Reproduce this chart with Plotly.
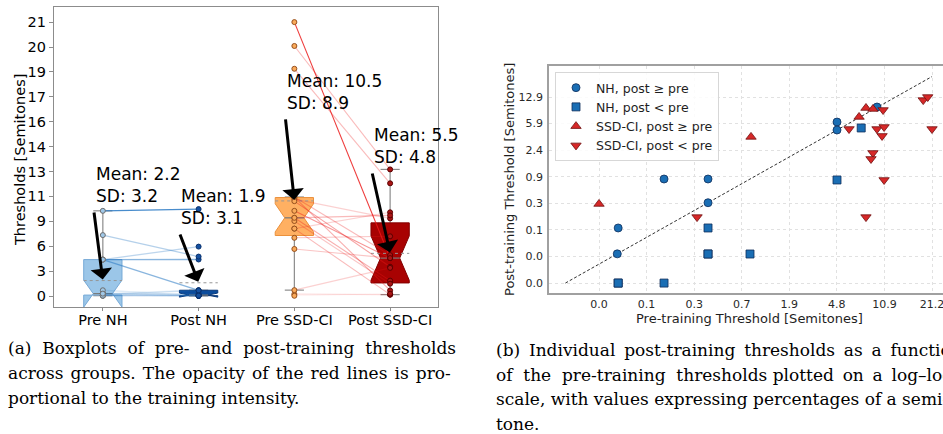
import numpy as np
import plotly.graph_objects as go

# ---------------------------------------------------------------------------
# Per-participant discrimination thresholds in semitones (pre / post training)
# ---------------------------------------------------------------------------
nh_pre = [0.140, 0.354, 0.354, 0.053, 0.052, 4.80, 4.80, 9.66,
          0.354, 0.354, 0.053, 0.140, 0.851, 4.80, 7.41, 0.053, 0.354]
nh_post = [0.853, 0.853, 0.354, 0.1375, 0.052, 6.23, 4.81, 9.81,
           0.1375, 0.0517, 0.0173, 0.0173, 0.0517, 0.823, 5.14, 0.0173, 0.0517]
nh_intensity = [0.15, 0.12, 0.12, 0.10, 0.10, 0.30, 0.55, 0.85,
                0.12, 0.12, 0.10, 0.10, 0.15, 0.55, 0.35, 0.10, 0.12]

ci_pre = [0.281, 10.82, 8.04, 5.98, 10.65, 9.66, 10.82, 10.48, 9.04, 8.75,
          18.98, 20.1, 21.2, 0.0353, 0.869, 7.14, 8.04, 9.04]
ci_post = [0.207, 0.823, 0.207, 4.97, 8.99, 4.97, 5.31, 3.95, 2.19, 1.77,
           11.9, 12.93, 4.97, 0.338, 3.82, 7.29, 9.53, 9.26]
ci_intensity = [0.15, 0.35, 0.30, 0.25, 0.20, 0.45, 0.30, 0.40, 0.35, 0.25,
                0.30, 0.30, 0.85, 0.05, 0.20, 0.25, 0.20, 0.30]

groups = ["Pre NH", "Post NH", "Pre SSD-CI", "Post SSD-CI"]
group_means = [2.2, 1.9, 10.5, 5.5]
group_sds = [3.2, 3.1, 8.9, 4.8]

box_tick_labels = ["0", "3", "6", "9", "11", "13", "14", "16", "17", "19", "20", "21"]
scatter_x_tick_labels = ["0.0", "0.1", "0.3", "0.7", "1.9", "4.8", "10.9", "21.2"]
scatter_y_tick_labels = ["0.0", "0.0", "0.1", "0.3", "0.9", "2.4", "5.9", "12.9"]

# caption lines; extra fixed-width spaces widen the word gaps of justified lines
NB = " \u00a0"
TH = " \u2009"
HA = " \u200a"
caption_a = [NB.join("(a) Boxplots of pre- and post-training thresholds".split(" ")),
             HA.join("across groups. The opacity of the red lines is pro-".split(" ")),
             "portional to the training intensity."]
caption_b = [TH.join("(b) Individual post-training thresholds as a function".split(" ")),
             NB.join("of the pre-training thresholds".split(" ")) + " " +
             TH.join("plotted on a log\u2013log".split(" ")),
             "scale, with values expressing percentages of a semi-",
             "tone."]


def ratio(semitones):
    """Frequency-ratio excess 2^(st/12) - 1 used as the plotting scale."""
    return 2.0 ** (np.asarray(semitones, dtype=float) / 12.0) - 1.0


def percent(semitones):
    return 100.0 * ratio(semitones)


SANS = "DejaVu Sans"
SERIF = "DejaVu Serif"
W, H = 943, 434

fig = go.Figure()

# ---------------------------------------------------------------------------
# Panel (a): notched boxplots with paired lines
# ---------------------------------------------------------------------------
group_values = [nh_pre, nh_post, ci_pre, ci_post]
box_fill = ["rgb(155,198,232)", "rgb(12,76,156)", "rgb(255,176,98)", "rgb(168,2,2)"]
box_edge = ["rgb(120,170,215)", "rgb(8,55,120)", "rgb(235,145,60)", "rgb(130,0,0)"]
pt_fill = ["rgb(160,200,232)", "rgb(20,80,160)", "rgb(250,170,90)", "rgb(170,20,20)"]
pt_edge = ["rgb(110,110,110)", "rgb(10,50,110)", "rgb(150,80,30)", "rgb(90,0,0)"]
box_w = 0.4

for i, vals in enumerate(group_values):
    r = ratio(vals)
    n = len(r)
    q1, med, q3 = np.percentile(r, [25, 50, 75])
    iqr = q3 - q1
    cilo = med - 1.57 * iqr / np.sqrt(n)
    cihi = med + 1.57 * iqr / np.sqrt(n)
    lo = r[r >= q1 - 1.5 * iqr].min()
    hi = r[r <= q3 + 1.5 * iqr].max()
    L, R = i - box_w / 2, i + box_w / 2
    nL, nR = i - box_w / 4, i + box_w / 4
    # whiskers and caps
    fig.add_trace(go.Scatter(
        x=[i, i, None, i, i, None, nL, nR, None, nL, nR],
        y=[q1, lo, None, q3, hi, None, lo, lo, None, hi, hi],
        mode="lines", line=dict(color="rgb(140,140,140)", width=1.2),
        hoverinfo="skip", showlegend=False, xaxis="x", yaxis="y"))
    # notched box outline
    fig.add_trace(go.Scatter(
        x=[L, R, R, nR, R, R, L, L, nL, L, L],
        y=[q1, q1, cilo, med, cihi, q3, q3, cihi, med, cilo, q1],
        mode="lines", fill="toself", fillcolor=box_fill[i],
        line=dict(color=box_edge[i], width=1),
        hoverinfo="skip", showlegend=False, xaxis="x", yaxis="y"))
    # median line
    fig.add_trace(go.Scatter(
        x=[nL, nR], y=[med, med], mode="lines",
        line=dict(color="rgb(120,120,120)", width=1.2),
        hoverinfo="skip", showlegend=False, xaxis="x", yaxis="y"))
    # mean line (dashed)
    m = float(ratio(group_means[i]))
    fig.add_trace(go.Scatter(
        x=[L, R], y=[m, m], mode="lines",
        line=dict(color="rgb(150,150,150)", width=1, dash="dot"),
        hoverinfo="skip", showlegend=False, xaxis="x", yaxis="y"))

# paired lines pre -> post
for pre, post, alpha in zip(nh_pre, nh_post, nh_intensity):
    fig.add_trace(go.Scatter(
        x=[0, 1], y=[float(ratio(pre)), float(ratio(post))], mode="lines",
        line=dict(color=f"rgba(40,120,195,{alpha})", width=1.3),
        hoverinfo="skip", showlegend=False, xaxis="x", yaxis="y"))
for pre, post, alpha in zip(ci_pre, ci_post, ci_intensity):
    fig.add_trace(go.Scatter(
        x=[2, 3], y=[float(ratio(pre)), float(ratio(post))], mode="lines",
        line=dict(color=f"rgba(235,25,25,{alpha})", width=1.1),
        hoverinfo="skip", showlegend=False, xaxis="x", yaxis="y"))

# individual points
for i, vals in enumerate(group_values):
    fig.add_trace(go.Scatter(
        x=[i] * len(vals), y=ratio(vals), mode="markers",
        marker=dict(size=5, color=pt_fill[i], line=dict(color=pt_edge[i], width=1)),
        hoverinfo="skip", showlegend=False, xaxis="x", yaxis="y"))

# mean / SD annotations with arrows
label_x = [-0.094, 0.80, 1.906, 2.81]
label_dy = [0.61, 0.437, 0.728, 0.714]
annotations = []
for i in range(4):
    m = float(ratio(group_means[i]))
    tail_y = m + label_dy[i]
    annotations.append(dict(
        x=i, y=m, ax=label_x[i], ay=tail_y, xref="x", yref="y", axref="x", ayref="y",
        text="", showarrow=True, arrowhead=1, arrowsize=1.2, arrowwidth=3,
        arrowcolor="black", standoff=1))
    annotations.append(dict(
        x=label_x[i], y=tail_y, xref="x", yref="y", xanchor="left", yanchor="bottom",
        yshift=3, showarrow=False, align="left",
        text=f"Mean: {group_means[i]}<br>SD: {group_sds[i]}",
        font=dict(family=SANS, size=17, color="black")))

r_max = float(ratio(max(max(ci_pre), max(nh_pre))))
box_tickvals = np.linspace(0, r_max, len(box_tick_labels))
px_per_tick = 24.9
r_per_px = (box_tickvals[1] - box_tickvals[0]) / px_per_tick

# ---------------------------------------------------------------------------
# Panel (b): post vs pre thresholds on log-log axes
# ---------------------------------------------------------------------------
pre_all = np.array(nh_pre + ci_pre)
post_all = np.array(nh_post + ci_post)
x_tickvals = np.geomspace(percent(pre_all.min()), percent(pre_all.max()), len(scatter_x_tick_labels))
y_tickvals = np.geomspace(percent(post_all.min()), percent(post_all.max()), len(scatter_y_tick_labels))

lo_id = min(percent(pre_all.min()), percent(post_all.min()))
hi_id = max(percent(pre_all.max()), percent(post_all.max()))
fig.add_trace(go.Scatter(
    x=[lo_id, hi_id], y=[lo_id, hi_id], mode="lines",
    line=dict(color="rgb(50,50,50)", width=1, dash="3px,2px"),
    hoverinfo="skip", showlegend=False, xaxis="x2", yaxis="y2"))

nh_pre_a, nh_post_a = np.array(nh_pre), np.array(nh_post)
ci_pre_a, ci_post_a = np.array(ci_pre), np.array(ci_post)
series = [
    ("NH, post \u2265 pre", nh_pre_a, nh_post_a, nh_post_a >= nh_pre_a, "circle", 8, "rgb(26,110,180)", "rgb(15,45,90)"),
    ("NH, post < pre", nh_pre_a, nh_post_a, nh_post_a < nh_pre_a, "square", 8, "rgb(26,110,180)", "rgb(15,45,90)"),
    ("SSD-CI, post \u2265 pre", ci_pre_a, ci_post_a, ci_post_a >= ci_pre_a, "triangle-up", 9, "rgb(214,40,40)", "rgb(110,15,15)"),
    ("SSD-CI, post < pre", ci_pre_a, ci_post_a, ci_post_a < ci_pre_a, "triangle-down", 9, "rgb(214,40,40)", "rgb(110,15,15)"),
]
for name, pre, post, mask, sym, size, col, edge in series:
    fig.add_trace(go.Scatter(
        x=percent(pre[mask]), y=percent(post[mask]), mode="markers", name=name,
        marker=dict(symbol=sym, size=size, color=col, line=dict(color=edge, width=0.8)),
        xaxis="x2", yaxis="y2"))

# axis titles and captions
annotations += [
    dict(x=20 / W, y=1 - 160 / H, xref="paper", yref="paper", text="Thresholds [Semitones]",
         xanchor="center", yanchor="middle", textangle=-90, showarrow=False,
         font=dict(family=SANS, size=14.5, color="black")),
    dict(x=509 / W, y=1 - 180 / H, xref="paper", yref="paper", text="Post-training Threshold [Semitones]",
         xanchor="center", yanchor="middle", textangle=-90, showarrow=False,
         font=dict(family=SANS, size=13, color="rgb(30,30,30)")),
    dict(x=749 / W, y=1 - 318 / H, xref="paper", yref="paper", text="Pre-training Threshold [Semitones]",
         xanchor="center", yanchor="middle", showarrow=False,
         font=dict(family=SANS, size=13, color="rgb(30,30,30)")),
]
for k, line in enumerate(caption_a):
    annotations.append(dict(x=6 / W, y=1 - (348 + 25 * k) / H, xref="paper", yref="paper",
                            xanchor="left", yanchor="middle", text=line, showarrow=False,
                            font=dict(family=SERIF, size=17, color="black")))
for k, line in enumerate(caption_b):
    annotations.append(dict(x=494 / W, y=1 - (350 + 24.5 * k) / H, xref="paper", yref="paper",
                            xanchor="left", yanchor="middle", text=line, showarrow=False,
                            font=dict(family=SERIF, size=17, color="black")))

ln10 = np.log(10)
fig.update_layout(
    width=W, height=H, margin=dict(l=0, r=0, t=0, b=0),
    paper_bgcolor="white", plot_bgcolor="white",
    font=dict(family=SANS, color="black"),
    annotations=annotations,
    xaxis=dict(domain=[54 / W, 438 / W], range=[-0.51, 3.5],
               tickmode="array", tickvals=[0, 1, 2, 3], ticktext=groups,
               showline=True, mirror=True, linecolor="rgb(140,140,140)", linewidth=1.2,
               ticks="outside", ticklen=3, tickcolor="rgb(140,140,140)",
               ticklabelstandoff=-4,
               showgrid=False, zeroline=False, tickfont=dict(size=14.5, family=SANS)),
    yaxis=dict(domain=[1 - 307 / H, 1 - 7 / H],
               range=[-11 * r_per_px, (296 - 7) * r_per_px],
               tickmode="array", tickvals=box_tickvals, ticktext=box_tick_labels,
               showline=True, mirror=True, linecolor="rgb(140,140,140)", linewidth=1.2,
               ticks="outside", ticklen=4, tickcolor="rgb(140,140,140)",
               showgrid=False, zeroline=False, tickfont=dict(size=14.5, family=SANS)),
    xaxis2=dict(domain=[549 / W, 1.0], type="log",
                range=[-2.651 / ln10, 5.715 / ln10],
                tickmode="array", tickvals=x_tickvals, ticktext=scatter_x_tick_labels,
                showline=True, mirror=True, linecolor="rgb(160,160,160)", linewidth=1.5,
                ticks="", ticklabeloverflow="allow",
                showgrid=True, gridcolor="rgb(225,225,225)", griddash="dot", gridwidth=1,
                zeroline=False, tickfont=dict(size=11, family=SANS, color="rgb(40,40,40)"),
                anchor="y2"),
    yaxis2=dict(domain=[1 - 293 / H, 1 - 66 / H], type="log",
                range=[-2.677 / ln10, 5.879 / ln10],
                tickmode="array", tickvals=y_tickvals, ticktext=scatter_y_tick_labels,
                showline=True, mirror=False, linecolor="rgb(160,160,160)", linewidth=1.5,
                ticks="outside", ticklen=2, tickcolor="rgba(0,0,0,0)",
                showgrid=True, gridcolor="rgb(225,225,225)", griddash="dot", gridwidth=1,
                zeroline=False, tickfont=dict(size=11, family=SANS, color="rgb(40,40,40)"),
                anchor="x2"),
    legend=dict(x=555 / W, y=1 - 72 / H, xanchor="left", yanchor="top",
                bgcolor="rgba(255,255,255,0.85)", bordercolor="rgb(215,215,215)", borderwidth=1,
                font=dict(family=SANS, size=12.5, color="rgb(30,30,30)"),
                tracegroupgap=0),
)

fig.write_html("out.html")
